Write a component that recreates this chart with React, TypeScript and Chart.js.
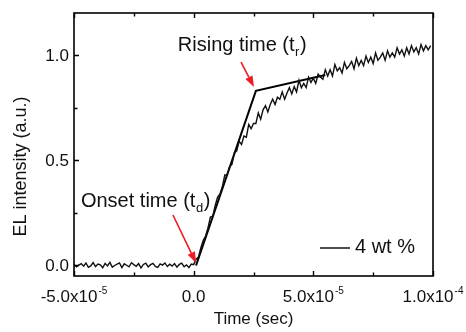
import React, { useEffect, useRef } from "react";
import { Chart, registerables } from "chart.js";

Chart.register(...registerables);

// ---- data ----
const sampleStartSec = -5e-5;
const sampleStepSec = 1e-6;
// EL intensity, t = -50 .. 0 µs (baseline)
const baselineValues = [
  0.004, -0.006, 0.002, 0.009, -0.003, 0.012, -0.009, -0.002, 0.014, -0.005,
  0.007, 0.003, -0.011, 0.010, -0.002, 0.015, -0.008, 0.000, 0.006, 0.012,
  -0.010, 0.008, 0.001, -0.006, 0.013, 0.004, -0.004, 0.009, -0.012, 0.005,
  0.011, -0.007, 0.004, 0.010, -0.004, -0.009, 0.008, 0.002, 0.012, -0.005,
  0.006, -0.003, 0.009, -0.008, 0.005, 0.011, -0.006, 0.003, -0.010, 0.007,
  0.004,
];
// EL intensity, t = 1 .. 99 µs (rise)
const riseValues = [
  0.03, 0.04, 0.085, 0.12, 0.14, 0.18, 0.23, 0.235, 0.285, 0.325,
  0.34, 0.375, 0.43, 0.43, 0.47, 0.48, 0.535, 0.545, 0.59, 0.575,
  0.615, 0.61, 0.67, 0.65, 0.675, 0.675, 0.725, 0.695, 0.74, 0.76,
  0.73, 0.765, 0.79, 0.765, 0.80, 0.79, 0.825, 0.79, 0.82, 0.845,
  0.815, 0.85, 0.825, 0.88, 0.845, 0.865, 0.845, 0.895, 0.87, 0.89,
  0.865, 0.91, 0.895, 0.885, 0.93, 0.90, 0.93, 0.90, 0.955, 0.925,
  0.94, 0.915, 0.965, 0.935, 0.95, 0.97, 0.935, 0.985, 0.95, 0.975,
  0.95, 0.995, 0.965, 0.99, 0.96, 1.01, 0.975, 0.99, 1.01, 0.975,
  1.02, 0.99, 1.01, 0.99, 1.035, 1.005, 1.025, 0.995, 1.035, 1.005,
  1.045, 1.015, 1.035, 1.005, 1.05, 1.02, 1.045, 1.025, 1.045,
];
const fitTimes = [0.1e-5, 2.6e-5, 5.5e-5];
const fitValues = [0.0, 0.83, 0.905];

const seriesLabel = "4 wt %";
const xTitle = "Time (sec)";
const yTitle = "EL intensity (a.u.)";

const xTickValues = [-5e-5, 0, 5e-5, 1e-4];
const xTickMantissas = ["-5.0x10", "0.0", "5.0x10", "1.0x10"];
const xTickExponents = ["-5", "", "-5", "-4"];
const xMinorTicks = [-2.5e-5, 2.5e-5, 7.5e-5];
const yTickValues = [0, 0.5, 1.0];
const yTickLabels = ["0.0", "0.5", "1.0"];
const yMinorTicks = [0.25, 0.75];

const onsetLabel = { text: "Onset time (t", sub: "d", close: ")", x: -4.71e-5, y: 0.278 };
const risingLabel = { text: "Rising time (t", sub: "r", close: ")", x: -0.66e-5, y: 1.02 };
const onsetArrow = { fromX: -0.865e-5, fromY: 0.24, toX: 0.1e-5, toY: 0.012 };
const risingArrow = { fromX: 1.98e-5, fromY: 0.967, toX: 2.52e-5, toY: 0.848 };

const FONT = '"Liberation Sans", Arial, Helvetica, sans-serif';
const INK = "#111";
const RED = "#ec1c24";

function drawArrow(ctx: CanvasRenderingContext2D, x1: number, y1: number, x2: number, y2: number) {
  const ang = Math.atan2(y2 - y1, x2 - x1);
  const headLen = 11;
  const headW = 4;
  const bx = x2 - headLen * Math.cos(ang);
  const by = y2 - headLen * Math.sin(ang);
  ctx.strokeStyle = RED;
  ctx.fillStyle = RED;
  ctx.lineWidth = 1.6;
  ctx.beginPath();
  ctx.moveTo(x1, y1);
  ctx.lineTo(bx, by);
  ctx.stroke();
  ctx.beginPath();
  ctx.moveTo(x2, y2);
  ctx.lineTo(bx + headW * Math.sin(ang), by - headW * Math.cos(ang));
  ctx.lineTo(bx - headW * Math.sin(ang), by + headW * Math.cos(ang));
  ctx.closePath();
  ctx.fill();
}

function drawSubLabel(ctx: CanvasRenderingContext2D, lab: any, px: number, py: number) {
  ctx.fillStyle = INK;
  ctx.textAlign = "left";
  ctx.textBaseline = "alphabetic";
  ctx.font = `20px ${FONT}`;
  ctx.fillText(lab.text, px, py);
  const w = ctx.measureText(lab.text).width;
  ctx.font = `13px ${FONT}`;
  ctx.fillText(lab.sub, px + w + 0.5, py + 5);
  const sw = ctx.measureText(lab.sub).width;
  ctx.font = `20px ${FONT}`;
  ctx.fillText(lab.close, px + w + sw + 1, py);
}

const decorPlugin = {
  id: "decor",
  afterDatasetsDraw(chart: any) {
    const { ctx, chartArea: a, scales } = chart;
    const xs = scales.x;
    const ys = scales.y;
    ctx.save();
    // frame
    ctx.strokeStyle = "#000";
    ctx.lineWidth = 1.6;
    ctx.strokeRect(a.left, a.top, a.right - a.left, a.bottom - a.top);
    // ticks (inward): bottom, top, left
    ctx.lineWidth = 1.4;
    ctx.beginPath();
    const xt = (v: number, len: number) => {
      const px = Math.round(xs.getPixelForValue(v)) + 0.5;
      ctx.moveTo(px, a.bottom);
      ctx.lineTo(px, a.bottom - len);
      ctx.moveTo(px, a.top);
      ctx.lineTo(px, a.top + len);
    };
    xTickValues.forEach((v) => xt(v, 5));
    xMinorTicks.forEach((v) => xt(v, 3.5));
    const yt = (v: number, len: number) => {
      const py = Math.round(ys.getPixelForValue(v)) + 0.5;
      ctx.moveTo(a.left, py);
      ctx.lineTo(a.left + len, py);
    };
    yTickValues.forEach((v) => yt(v, 5));
    yMinorTicks.forEach((v) => yt(v, 3.5));
    ctx.stroke();

    // x tick labels with superscript exponent
    ctx.fillStyle = INK;
    ctx.textBaseline = "alphabetic";
    ctx.textAlign = "left";
    const base = a.bottom + 26;
    xTickValues.forEach((v, i) => {
      ctx.font = `17px ${FONT}`;
      const m = xTickMantissas[i];
      const mw = ctx.measureText(m).width;
      ctx.font = `10px ${FONT}`;
      const e = xTickExponents[i];
      const ew = e ? ctx.measureText(e).width + 1 : 0;
      const cx = xs.getPixelForValue(v);
      const left = cx - (mw + ew) / 2;
      ctx.font = `17px ${FONT}`;
      ctx.fillText(m, left, base);
      if (e) {
        ctx.font = `10px ${FONT}`;
        ctx.fillText(e, left + mw + 1, base - 8);
      }
    });

    // y tick labels
    ctx.font = `17px ${FONT}`;
    ctx.textAlign = "right";
    ctx.textBaseline = "middle";
    yTickValues.forEach((v, i) => {
      ctx.fillText(yTickLabels[i], a.left - 5, ys.getPixelForValue(v) + 1);
    });

    // axis titles
    ctx.textAlign = "center";
    ctx.textBaseline = "middle";
    ctx.font = `17px ${FONT}`;
    ctx.fillText(xTitle, (a.left + a.right) / 2, a.bottom + 43);
    ctx.save();
    ctx.translate(21, (a.top + a.bottom) / 2 + 22);
    ctx.rotate(-Math.PI / 2);
    ctx.font = `18px ${FONT}`;
    ctx.fillText(yTitle, 0, 0);
    ctx.restore();

    // legend
    const lx = a.left + 246;
    const ly = a.bottom - 29;
    ctx.strokeStyle = INK;
    ctx.lineWidth = 1.5;
    ctx.beginPath();
    ctx.moveTo(lx, ly + 1);
    ctx.lineTo(lx + 30, ly + 1);
    ctx.stroke();
    ctx.font = `20px ${FONT}`;
    ctx.textAlign = "left";
    ctx.textBaseline = "middle";
    ctx.fillText(seriesLabel, lx + 35, ly);

    // annotations
    drawSubLabel(ctx, onsetLabel, xs.getPixelForValue(onsetLabel.x), ys.getPixelForValue(onsetLabel.y));
    drawSubLabel(ctx, risingLabel, xs.getPixelForValue(risingLabel.x), ys.getPixelForValue(risingLabel.y));
    drawArrow(
      ctx,
      xs.getPixelForValue(onsetArrow.fromX), ys.getPixelForValue(onsetArrow.fromY),
      xs.getPixelForValue(onsetArrow.toX), ys.getPixelForValue(onsetArrow.toY)
    );
    drawArrow(
      ctx,
      xs.getPixelForValue(risingArrow.fromX), ys.getPixelForValue(risingArrow.fromY),
      xs.getPixelForValue(risingArrow.toX), ys.getPixelForValue(risingArrow.toY)
    );
    ctx.restore();
  },
};

export default function App() {
  const ref = useRef<HTMLCanvasElement | null>(null);
  useEffect(() => {
    if (!ref.current) return;
    const allValues = [...baselineValues, ...riseValues];
    const points = allValues.map((v, i) => ({ x: sampleStartSec + i * sampleStepSec, y: v }));
    const fitPoints = fitTimes.map((t, i) => ({ x: t, y: fitValues[i] }));
    const chart = new Chart(ref.current, {
      type: "line",
      data: {
        datasets: [
          {
            label: seriesLabel,
            data: points,
            borderColor: INK,
            borderWidth: 1.4,
            pointRadius: 0,
            tension: 0,
          },
          {
            label: "fit",
            data: fitPoints,
            borderColor: "#000",
            borderWidth: 2,
            pointRadius: 0,
            tension: 0,
          },
        ],
      },
      options: {
        animation: false,
        responsive: false,
        maintainAspectRatio: false,
        layout: { padding: { top: 13, right: 33, left: 0, bottom: 0 } },
        plugins: { legend: { display: false }, tooltip: { enabled: false } },
        scales: {
          x: {
            type: "linear",
            min: -5e-5,
            max: 1e-4,
            grid: { display: false, drawTicks: false },
            border: { display: false },
            ticks: { display: false },
            afterFit: (s: any) => {
              s.height = 56;
            },
          },
          y: {
            type: "linear",
            min: -0.05,
            max: 1.2,
            grid: { display: false, drawTicks: false },
            border: { display: false },
            ticks: { display: false },
            afterFit: (s: any) => {
              s.width = 74;
            },
          },
        },
      },
      plugins: [decorPlugin],
    });
    return () => chart.destroy();
  }, []);
  return (
    <div style={{ position: "absolute", left: 0, top: 0, width: 466, height: 332, background: "#fff" }}>
      <canvas ref={ref} width={466} height={332} />
    </div>
  );
}
